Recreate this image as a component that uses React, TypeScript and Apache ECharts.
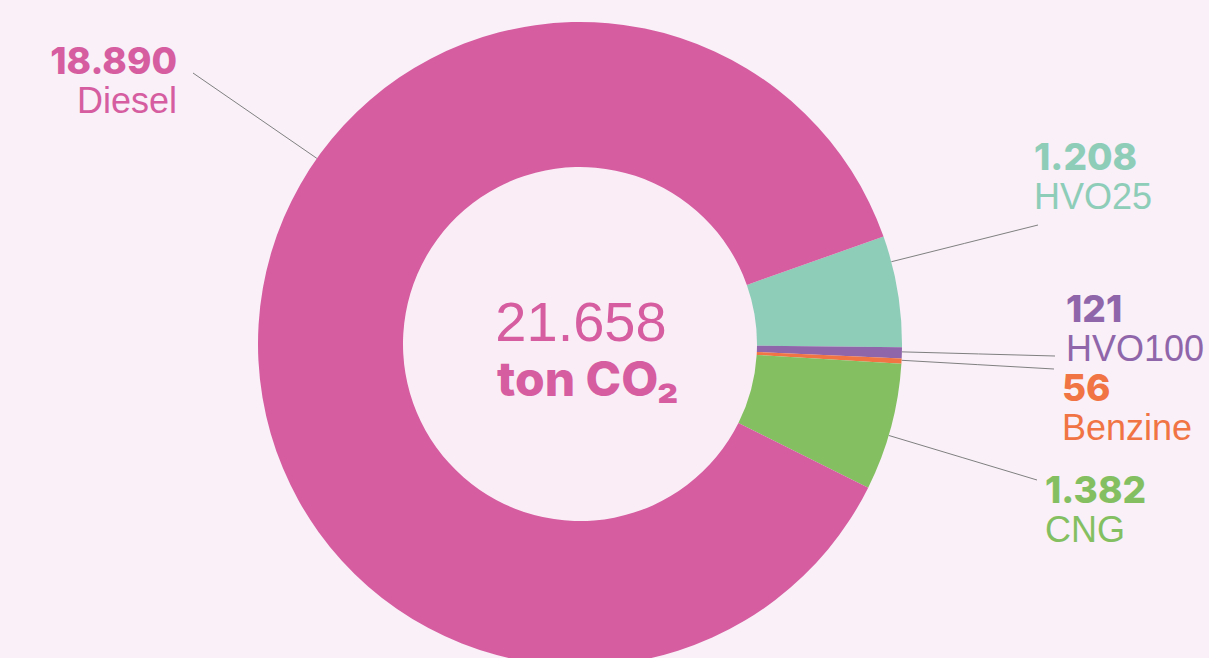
import React, { useEffect, useRef } from "react";
import * as echarts from "echarts";

const categories = ["HVO25", "HVO100", "Benzine", "CNG", "Diesel"];
const values = [1208, 121, 56, 1382, 18890];
const colors = ["#8ecdb8", "#9066aa", "#f07444", "#84c062", "#d55da0"];
const totalLabel = "21.658";
const unitLabel = "ton CO₂";

// label placement (style only)
const labelPos = [
  { x: 1034, y: 136, align: "left", ax: 14.8, ex: 1038, ey: 225 },
  { x: 1066, y: 288, align: "left", ax: -1.4, ex: 1055, ey: 356 },
  { x: 1062, y: 367, align: "left", ax: -2.9, ex: 1054, ey: 369 },
  { x: 1045, y: 469, align: "left", ax: -16.5, ex: 1037, ey: 480 },
  { x: 177, y: 40, align: "right", ax: 144.8, ex: 193, ey: 73 },
];

const CX = 580;
const CY = 344;
const R_IN = 177;
const R_OUT = 322;

function fmt(v: number): string {
  return String(v).replace(/\B(?=(\d{3})+(?!\d))/g, ".");
}

export default function App() {
  const ref = useRef<HTMLDivElement>(null);
  useEffect(() => {
    if (!ref.current) return;
    const chart = echarts.init(ref.current, null, { renderer: "svg" });
    const rich: any = {};
    colors.forEach((c, i) => {
      rich["v" + i] = {
        color: c,
        fontFamily: "Inter",
        fontWeight: 800,
        fontSize: 37,
        lineHeight: 40,
      };
      rich["n" + i] = {
        color: c,
        fontFamily: "Liberation Sans",
        fontWeight: "normal",
        fontSize: 36,
        lineHeight: 40,
      };
    });
    chart.setOption({
      animation: false,
      backgroundColor: "#f9f0f8",
      series: [
        {
          type: "pie",
          center: [CX, CY],
          radius: [0, R_IN],
          silent: true,
          z: 1,
          label: { show: false },
          labelLine: { show: false },
          data: [{ value: 1, itemStyle: { color: "#fbedf6" } }],
        },
        {
          type: "pie",
          center: [CX, CY],
          radius: [R_IN, R_OUT],
          startAngle: 19.5,
          clockwise: true,
          avoidLabelOverlap: false,
          itemStyle: { borderWidth: 0 },
          label: {
            show: true,
            position: "outside",
            formatter: (p: any) =>
              `{v${p.dataIndex}|${fmt(p.value)}}\n{n${p.dataIndex}|${p.name}}`,
            rich,
          },
          labelLine: {
            show: true,
            lineStyle: { color: "#808080", width: 1 },
          },
          labelLayout: (params: any) => {
            const lp = labelPos[params.dataIndex];
            const a = (lp.ax * Math.PI) / 180;
            const sx = CX + R_OUT * Math.cos(a);
            const sy = CY - R_OUT * Math.sin(a);
            return {
              x: lp.x,
              y: lp.y,
              align: lp.align,
              verticalAlign: "top",
              labelLinePoints: [
                [sx, sy],
                [(sx + lp.ex) / 2, (sy + lp.ey) / 2],
                [lp.ex, lp.ey],
              ],
            };
          },
          data: categories.map((c, i) => ({
            name: c,
            value: values[i],
            itemStyle: { color: colors[i] },
          })),
        },
      ],
      graphic: [
        {
          type: "text",
          z: 100,
          x: CX + 1,
          y: 321,
          style: {
            text: totalLabel,
            fill: "#d55da0",
            fontFamily: "Liberation Sans",
            fontSize: 56,
            fontWeight: "normal",
            textAlign: "center",
            textVerticalAlign: "middle",
          },
        },
        {
          type: "text",
          z: 100,
          x: CX + 8,
          y: 378,
          style: {
            text: unitLabel,
            fill: "#d55da0",
            fontFamily: "Inter",
            fontSize: 48,
            fontWeight: 800,
            textAlign: "center",
            textVerticalAlign: "middle",
          },
        },
      ],
    });
    return () => chart.dispose();
  }, []);
  return (
    <div
      ref={ref}
      style={{ position: "fixed", left: 0, top: 0, width: 1209, height: 658 }}
    />
  );
}
